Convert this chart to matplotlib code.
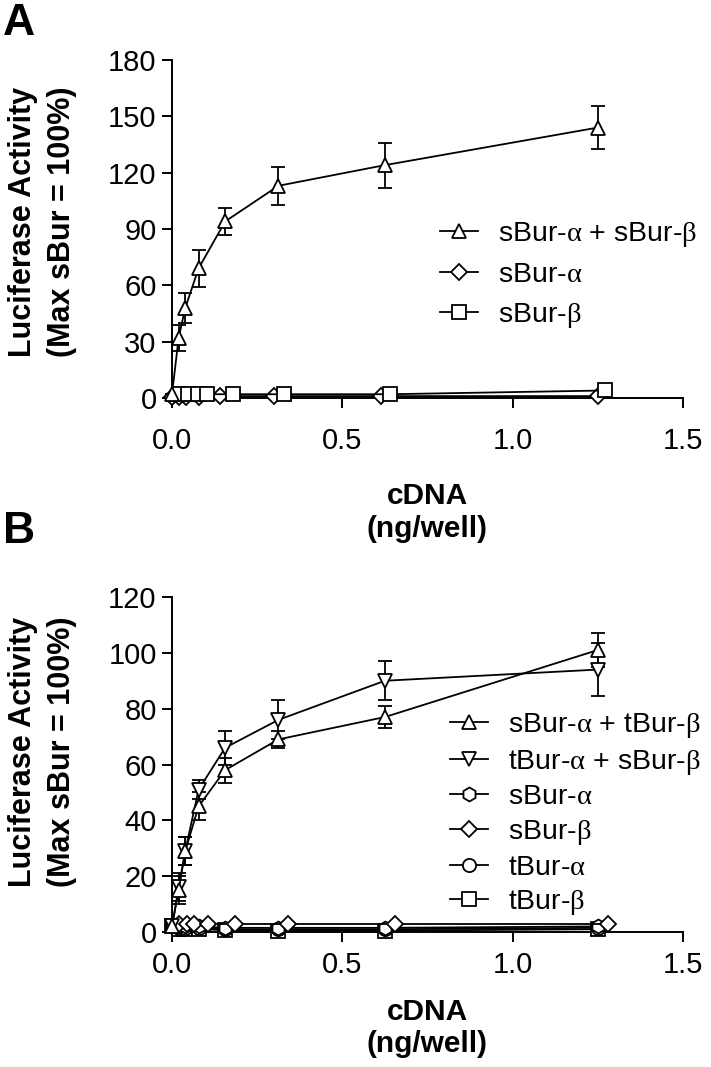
import matplotlib
matplotlib.use('Agg')
import matplotlib.pyplot as plt
from matplotlib.lines import Line2D

plt.rcParams['font.family'] = ['Liberation Sans', 'DejaVu Sans']
plt.rcParams['mathtext.fontset'] = 'custom'
plt.rcParams['mathtext.rm'] = 'Liberation Serif'

AL = r'$\mathrm{\alpha}$'
BE = r'$\mathrm{\beta}$'

# ---- panel A data ----
a_x = [0, 0.0195, 0.039, 0.078, 0.156, 0.3125, 0.625, 1.25]
a_sab = [2, 32, 48, 69, 94, 113, 124, 144]
a_sab_err = [0, 7, 8, 10, 7, 10, 12, 11.5]
a_sa_x = [0, 0.02, 0.04, 0.08, 0.14, 0.30, 0.615, 1.25]
a_sa = [0.5, 0.5, 0.5, 0.5, 1, 1, 1, 1]
a_sb_x = [0.02, 0.047, 0.076, 0.102, 0.178, 0.33, 0.64, 1.27]
a_sb = [2, 2, 2, 2, 2, 2, 2, 4]

# ---- panel B data ----
b_x = [0, 0.0195, 0.039, 0.078, 0.156, 0.3125, 0.625, 1.25]
b_satb = [2, 15, 29, 45, 58, 69, 77, 101]
b_satb_err = [0, 5, 5, 5, 4.5, 3, 4, 6]
b_tasb = [2, 16, 29, 51, 66, 76, 90, 94]
b_tasb_err = [0, 5, 5, 3.5, 6, 7, 7, 9.5]
b_sa = [2, 2, 2, 2, 1.5, 1.5, 1.5, 2]
b_sb_x = [0.02, 0.045, 0.065, 0.105, 0.185, 0.34, 0.655, 1.28]
b_sb = [3, 3, 3, 3, 3, 3, 3, 3]
b_ta = [2, 1.5, 1.5, 1.5, 1, 1, 1, 1.5]
b_tb = [2, 1, 1, 1, 0.7, 0.5, 0.5, 1]

fig = plt.figure(figsize=(7.11, 10.67), dpi=100)
axA = fig.add_axes([0.2419, 0.6270, 0.7187, 0.3168])
axB = fig.add_axes([0.2419, 0.1265, 0.7187, 0.3140])

LW = 1.3


def series(ax, x, y, marker, ms, label, err=None):
    ln, = ax.plot(x, y, color='black', lw=LW, marker=marker, ms=ms,
                  mfc='white', mec='black', mew=LW, label=label, zorder=3)
    ln.set_clip_on(False)
    if err is not None:
        eb = ax.errorbar(x, y, yerr=err, fmt='none', ecolor='black',
                         elinewidth=LW, capsize=5, capthick=LW, zorder=2)
        for art in eb.lines[1] + eb.lines[2]:
            art.set_clip_on(False)
    return ln


def style(ax, ymax, ystep, ylab_y, xpad, xlab_y):
    ax.set_xlim(0, 1.5)
    ax.set_ylim(0, ymax)
    ax.set_xticks([0, 0.5, 1.0, 1.5])
    ax.set_xticklabels(['0.0', '0.5', '1.0', '1.5'])
    ax.set_yticks(range(0, ymax + 1, ystep))
    for s in ['top', 'right']:
        ax.spines[s].set_visible(False)
    for s in ['left', 'bottom']:
        ax.spines[s].set_linewidth(1.4)
    ax.tick_params(axis='both', length=7, width=1.4, labelsize=21)
    ax.tick_params(axis='y', pad=4)
    ax.tick_params(axis='x', pad=xpad)
    ax.set_xlabel('cDNA\n(ng/well)', fontsize=21.5, fontweight='bold')
    ax.set_ylabel('Luciferase Activity\n(Max sBur = 100%)', fontsize=22,
                  fontweight='bold', linespacing=1.4)
    ax.xaxis.set_label_coords(0.5, xlab_y)
    ax.yaxis.set_label_coords(-0.185, ylab_y)


# panel A
series(axA, a_sa_x, a_sa, 'D', 8.5, 'sBur-' + AL)
series(axA, a_sb_x, a_sb, 's', 9.5, 'sBur-' + BE)
series(axA, a_x, a_sab, '^', 10, 'sBur-' + AL + ' + sBur-' + BE, a_sab_err)
style(axA, 180, 30, 0.52, 14, -0.25)
hA = [Line2D([], [], color='black', lw=LW, marker=m, ms=s, mfc='white', mec='black', mew=LW)
      for m, s in [('^', 10), ('D', 8.5), ('s', 9.5)]]
axA.legend(hA, ['sBur-' + AL + ' + sBur-' + BE, 'sBur-' + AL, 'sBur-' + BE],
           loc='upper left', bbox_to_anchor=(440 / 711, 1 - 220 / 1067),
           bbox_transform=fig.transFigure, frameon=False, fontsize=20.5,
           handlelength=1.35, handletextpad=0.7, labelspacing=0.45,
           borderpad=0, borderaxespad=0)

# panel B
series(axB, b_x, b_tb, 's', 9.5, 'tBur-' + BE)
series(axB, b_x, b_ta, 'o', 9.5, 'tBur-' + AL)
series(axB, b_x, b_sa, 'h', 10, 'sBur-' + AL)
series(axB, b_sb_x, b_sb, 'D', 8.5, 'sBur-' + BE)
series(axB, b_x, b_tasb, 'v', 10, 'tBur-' + AL + ' + sBur-' + BE, b_tasb_err)
series(axB, b_x, b_satb, '^', 10, 'sBur-' + AL + ' + tBur-' + BE, b_satb_err)
style(axB, 120, 20, 0.537, 7, -0.197)
hB = [Line2D([], [], color='black', lw=LW, marker=m, ms=s, mfc='white', mec='black', mew=LW)
      for m, s in [('^', 10), ('v', 10), ('h', 10), ('D', 8.5), ('o', 9.5), ('s', 9.5)]]
axB.legend(hB, ['sBur-' + AL + ' + tBur-' + BE, 'tBur-' + AL + ' + sBur-' + BE,
                'sBur-' + AL, 'sBur-' + BE, 'tBur-' + AL, 'tBur-' + BE],
           loc='upper left', bbox_to_anchor=(450 / 711, 1 - 711 / 1067),
           bbox_transform=fig.transFigure, frameon=False, fontsize=20.5,
           handlelength=1.35, handletextpad=0.7, labelspacing=0.27,
           borderpad=0, borderaxespad=0)

fig.text(0.004, 0.997, 'A', fontsize=32, fontweight='bold', va='top', ha='left')
fig.text(0.004, 0.521, 'B', fontsize=32, fontweight='bold', va='top', ha='left')

fig.savefig('out.png', dpi=100)
